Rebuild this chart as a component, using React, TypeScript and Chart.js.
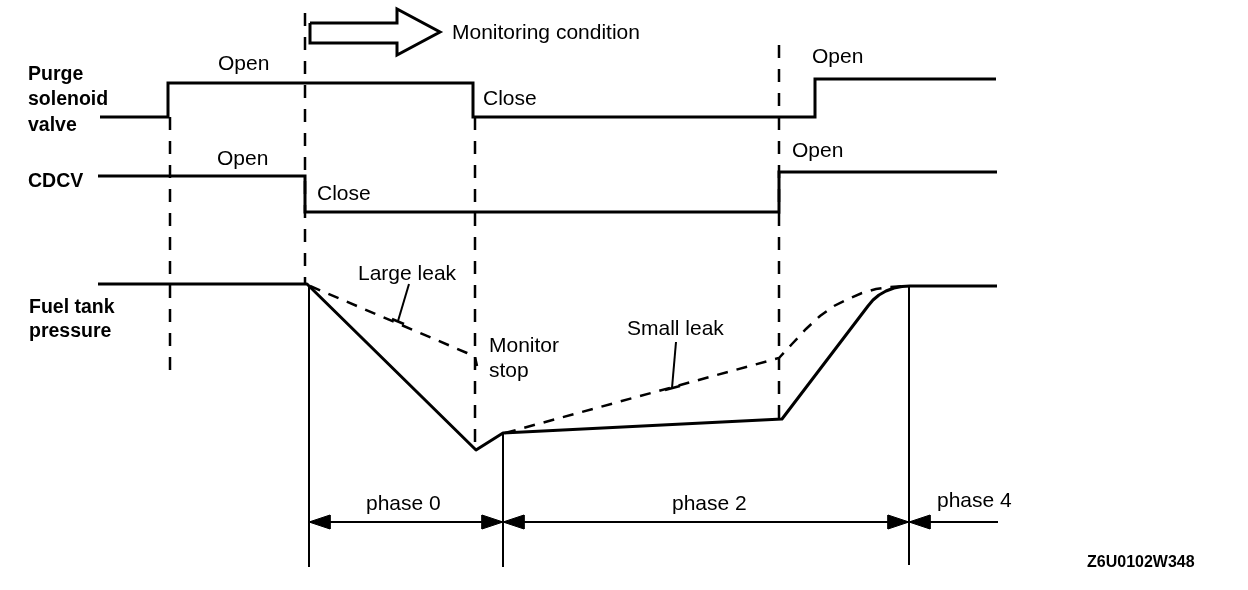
import { useEffect, useRef } from "react";
import { Chart, registerables } from "chart.js";

Chart.register(...registerables);

// ---- Signal traces (time axis, level axis; level grows downward) ----
const purgeTime = [100, 168, 168, 473, 473, 815, 815, 996];
const purgeLevel = [117, 117, 83, 83, 117, 117, 79, 79];

const cdcvTime = [98, 305, 305, 779, 779, 997];
const cdcvLevel = [176, 176, 212, 212, 172, 172];

const fuelTime = [98, 307, 476, 503, 782, 868, 873, 879, 886, 894, 902, 910, 997];
const fuelLevel = [284, 284, 450, 433, 419, 306, 300, 295, 291, 288, 286.5, 286, 286];

const largeLeakTime = [310, 467, 475, 477];
const largeLeakLevel = [286, 353, 357, 366];

const smallLeakTime = [505, 779, 792, 806, 820, 834, 848, 862, 876, 890, 906];
const smallLeakLevel = [433, 358, 344, 329, 316, 306, 299, 293, 289, 287, 286];

// ---- Event markers ----
const dashedMarkTime = [170, 305, 475, 779];
const dashedMarkFrom = [117, 13, 117, 45];
const dashedMarkTo = [370, 284, 450, 418];

const phaseBoundTime = [309, 503, 909];
const phaseBoundFrom = [285, 433, 287];
const phaseBoundTo = [567, 567, 565];

const phaseArrowLevel = 522;
const phaseArrowStart = 309;
const phaseArrowEnd = 998;
const phaseHeadTips = [309, 503, 503, 909, 909];
const phaseHeadDirs = [1, -1, 1, -1, 1]; // +1 = head points left (base to the right)

// Hollow "monitoring condition" arrow outline
const monArrowTime = [310, 397, 397, 440, 397, 397, 310, 310];
const monArrowLevel = [23, 23, 9, 32, 55, 43, 43, 23];

// Leader lines for the leak labels
const largeLeaderTime = [409, 398];
const largeLeaderLevel = [284, 321];
const largeBarTime = [392, 404];
const largeBarLevel = [319, 324];
const smallLeaderTime = [676, 672];
const smallLeaderLevel = [342, 388];
const smallBarTime = [665, 680];
const smallBarLevel = [390, 386];

// ---- Text labels ----
const labelTexts = [
  "Purge", "solenoid", "valve", "CDCV", "Fuel tank", "pressure",
  "Open", "Close", "Open", "Open", "Close", "Open",
  "Monitoring condition", "Large leak", "Monitor", "stop", "Small leak",
  "phase 0", "phase 2", "phase 4", "Z6U0102W348",
];
const labelTime = [
  28, 28, 28, 28, 29, 29,
  218, 483, 812, 217, 317, 792,
  452, 358, 489, 489, 627,
  366, 672, 937, 1087,
];
const labelLevel = [
  80, 105, 131, 187, 313, 337,
  70, 105, 63, 165, 200, 157,
  39, 280, 352, 377, 335,
  510, 510, 507, 567,
];
const labelStyle = [
  "b", "b", "b", "b", "b", "b",
  "r", "r", "r", "r", "r", "r",
  "r", "r", "r", "r", "r",
  "r", "r", "r", "s",
];

const pts = (xs: number[], ys: number[]) => xs.map((x, i) => ({ x, y: ys[i] }));

const line = (data: any, opts: any = {}) => ({
  data,
  showLine: true,
  borderColor: "#000",
  backgroundColor: "#000",
  borderWidth: 3,
  pointRadius: 0,
  fill: false,
  tension: 0,
  borderJoinStyle: "miter",
  ...opts,
});

export default function App() {
  const ref = useRef<HTMLCanvasElement | null>(null);

  useEffect(() => {
    const canvas = ref.current;
    if (!canvas) return;

    const datasets: any[] = [];
    datasets.push(line(pts(purgeTime, purgeLevel)));
    datasets.push(line(pts(cdcvTime, cdcvLevel)));
    datasets.push(line(pts(fuelTime, fuelLevel), { borderJoinStyle: "round" }));
    datasets.push(line(pts(largeLeakTime, largeLeakLevel), { borderWidth: 2.5, borderDash: [11, 9] }));
    datasets.push(line(pts(smallLeakTime, smallLeakLevel), { borderWidth: 2.5, borderDash: [11, 9] }));

    dashedMarkTime.forEach((t, i) => {
      datasets.push(
        line(pts([t, t], [dashedMarkFrom[i], dashedMarkTo[i]]), { borderWidth: 2.5, borderDash: [13, 11] })
      );
    });
    phaseBoundTime.forEach((t, i) => {
      datasets.push(line(pts([t, t], [phaseBoundFrom[i], phaseBoundTo[i]]), { borderWidth: 2 }));
    });
    datasets.push(
      line(pts([phaseArrowStart, phaseArrowEnd], [phaseArrowLevel, phaseArrowLevel]), { borderWidth: 2 })
    );
    phaseHeadTips.forEach((tip, i) => {
      const base = tip + phaseHeadDirs[i] * 21;
      datasets.push(
        line(
          pts([tip, base, base, tip], [phaseArrowLevel, phaseArrowLevel - 7, phaseArrowLevel + 7, phaseArrowLevel]),
          { borderWidth: 1, fill: "shape" }
        )
      );
    });
    datasets.push(line(pts(monArrowTime, monArrowLevel), { borderWidth: 3 }));
    datasets.push(line(pts(largeLeaderTime, largeLeaderLevel), { borderWidth: 2 }));
    datasets.push(line(pts(largeBarTime, largeBarLevel), { borderWidth: 2.5 }));
    datasets.push(line(pts(smallLeaderTime, smallLeaderLevel), { borderWidth: 2 }));
    datasets.push(line(pts(smallBarTime, smallBarLevel), { borderWidth: 2.5 }));

    const textPlugin = {
      id: "diagramText",
      afterDatasetsDraw(chart: any) {
        const { ctx, scales } = chart;
        ctx.save();
        ctx.fillStyle = "#000";
        ctx.textBaseline = "alphabetic";
        ctx.textAlign = "left";
        labelTexts.forEach((txt, i) => {
          const s = labelStyle[i];
          ctx.font =
            s === "b"
              ? "bold 19.5px 'Liberation Sans', Arial, sans-serif"
              : s === "s"
              ? "bold 16px 'Liberation Sans', Arial, sans-serif"
              : "21px 'Liberation Sans', Arial, sans-serif";
          ctx.fillText(txt, scales.x.getPixelForValue(labelTime[i]), scales.y.getPixelForValue(labelLevel[i]));
        });
        ctx.restore();
      },
    };

    const bgPlugin = {
      id: "whiteBg",
      beforeDraw(chart: any) {
        const { ctx, width, height } = chart;
        ctx.save();
        ctx.fillStyle = "#fff";
        ctx.fillRect(0, 0, width, height);
        ctx.restore();
      },
    };

    const chart = new Chart(canvas, {
      type: "scatter",
      data: { datasets },
      options: {
        animation: false,
        responsive: false,
        maintainAspectRatio: false,
        layout: { padding: 0 },
        plugins: { legend: { display: false }, tooltip: { enabled: false }, title: { display: false } },
        events: [],
        scales: {
          x: { type: "linear", min: 0, max: 1248, display: false },
          y: { type: "linear", min: 0, max: 590, reverse: true, display: false },
        },
      } as any,
      plugins: [bgPlugin, textPlugin],
    });

    return () => chart.destroy();
  }, []);

  return (
    <div style={{ position: "fixed", left: 0, top: 0, width: 1248, height: 590, background: "#fff" }}>
      <canvas ref={ref} width={1248} height={590} style={{ display: "block", width: 1248, height: 590 }} />
    </div>
  );
}
